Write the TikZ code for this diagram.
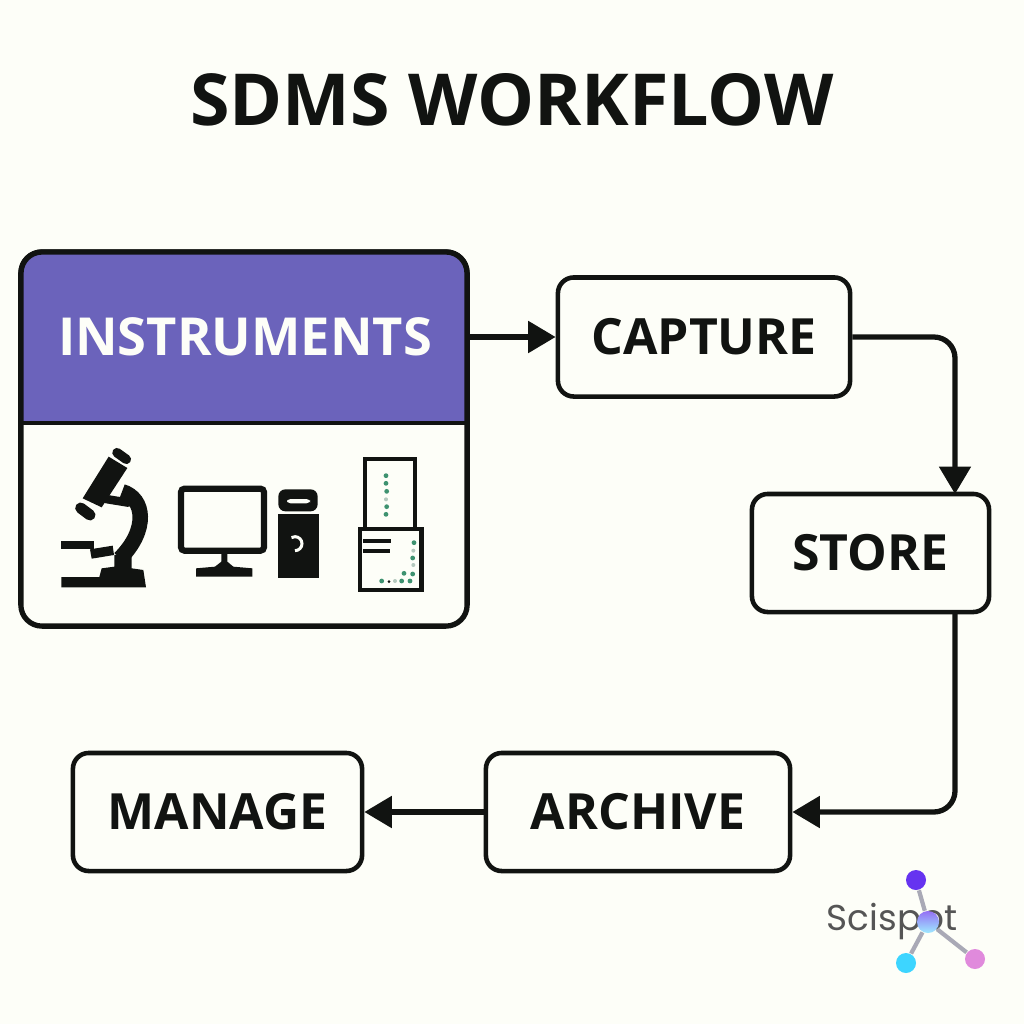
\documentclass[tikz,border=0pt]{standalone}
\usepackage{fontspec}
\setmainfont{Open Sans}
\newfontfamily\logofont{Poppins}
\usetikzlibrary{arrows.meta,backgrounds}
\definecolor{pagebg}{HTML}{FDFEF8}
\definecolor{inkblack}{HTML}{111311}
\definecolor{headerblue}{HTML}{6B63BB}
\definecolor{dotgreen}{HTML}{3E9270}
\definecolor{dotpale}{HTML}{B5C9BE}
\definecolor{logogray}{HTML}{A9A9B6}
\definecolor{logotext}{HTML}{555555}
\definecolor{logopurple}{HTML}{6633F0}
\definecolor{logocyan}{HTML}{3DD5FF}
\definecolor{logopink}{HTML}{E08ADC}
\tikzset{
  stepbox/.style={draw=inkblack, line width=1.3pt, rounded corners=4.5pt, fill=pagebg, inner sep=0pt, font=\fontsize{14.2}{18}\selectfont\bfseries, text=inkblack},
  flow/.style={draw=inkblack, line width=1.5pt, rounded corners=6pt, -{Triangle[length=7.8pt,width=8.8pt]}},
  logodot/.style={circle, minimum size=2mm, inner sep=0pt, draw=none},
  logoline/.style={logogray, line width=1.2pt}
}
\begin{document}
\begin{tikzpicture}[x=0.01cm,y=-0.01cm]
\useasboundingbox (0,0) rectangle (1024,1024);
\begin{scope}[on background layer]
\fill[pagebg] (0,0) rectangle (1024,1024);
\end{scope}

\node[font=\fontsize{20.4}{26}\selectfont\bfseries, text=inkblack] (title) at (512,100) {SDMS WORKFLOW};

% instruments panel
\node[draw=inkblack, line width=1.5pt, rounded corners=6pt, fill=pagebg, minimum width=4.46cm, minimum height=3.74cm, inner sep=0pt] (instruments) at (244,439) {};
\fill[headerblue, rounded corners=6pt] (21,423) -- (21,252) -- (467,252) -- (467,423) -- cycle;
\fill[headerblue] (21,395) rectangle (467,423);
\draw[inkblack, line width=1.5pt, rounded corners=6pt] (21,423) -- (21,252) -- (467,252) -- (467,423);
\draw[inkblack, line width=1.3pt] (21,423) -- (467,423);
\node[minimum width=4.46cm, minimum height=1.71cm, inner sep=0pt, text=pagebg, font=\fontsize{14.9}{18}\selectfont\bfseries] (header) at (245,337) {INSTRUMENTS};

\node[stepbox, minimum width=2.92cm, minimum height=1.19cm] (capture) at (704,337) {CAPTURE};
\node[stepbox, minimum width=2.37cm, minimum height=1.18cm] (store) at (870.5,553) {STORE};
\node[stepbox, minimum width=3.04cm, minimum height=1.18cm] (archive) at (638,812) {ARCHIVE};
\node[stepbox, minimum width=2.89cm, minimum height=1.18cm] (manage) at (217.5,812) {MANAGE};

\coordinate (storein) at (955,494);
\coordinate (storeout) at (955,612);

\draw[flow] (header.east) -- (capture.west);
\draw[flow] (capture.east) -- (955,337) -- (storein);
\draw[flow] (storeout) -- (955,812) -- (archive.east);
\draw[flow] (archive.west) -- (manage.east);

% icons, in units of a third of a pixel
\begin{scope}[shift={(20,430)},x=0.01cm/3,y=-0.01cm/3]
  % microscope
  \draw[inkblack, line width=0.95mm, line cap=round] (291,68) -- (319,88);
  \fill[inkblack] (266,80) -- (322,114) -- (245,232) -- (188,205) -- cycle;
  \draw[inkblack, line width=1.1mm, line cap=round] (182,234) -- (210,255);
  \draw[inkblack, line width=1.55mm] (306,185) .. controls (375,205) and (385,300) .. (300,385);
  \draw[inkblack, line width=0.85mm, line cap=round] (258,207) -- (325,218);
  \fill[inkblack] (122,332) -- (222,332) -- (222,358) -- (122,358) -- cycle;
  \fill[inkblack] (210,358) -- (278,347) -- (282,375) -- (215,386) -- cycle;
  \fill[inkblack] (283,375) -- (335,365) -- (335,415) -- (370,420) -- (378,472) -- (124,472) -- (124,441) -- (238,441) -- (245,415) -- (283,410) -- cycle;
  % computer
  \draw[inkblack, line width=0.62mm, rounded corners=1pt] (483,176) rectangle (732,362);
  \fill[inkblack] (604,368) -- (622,368) -- (622,395) -- (640,410) -- (697,415) -- (697,440) -- (528,440) -- (528,415) -- (585,410) -- (604,395) -- cycle;
  \fill[inkblack, rounded corners=2pt] (775,178) rectangle (893,244);
  \fill[pagebg, rounded corners=1pt] (801,207) rectangle (870,220);
  \fill[inkblack] (773,252) rectangle (896,445);
  \draw[pagebg, line width=0.3mm] (825,362) arc (90:-120:21);
  % sample device
  \draw[inkblack, line width=0.42mm] (1036,88) rectangle (1186,297);
  \draw[inkblack, line width=0.48mm, fill=pagebg] (1020,297) rectangle (1204,480);
  \draw[inkblack, line width=0.42mm] (1030,333) -- (1112,333);
  \draw[inkblack, line width=0.42mm] (1030,364) -- (1110,364);
  \foreach \px/\py in {1098/137,1098/160,1100/184,1100/230,1098/253,1182/338,1178/384,1152/430,1178/432,1085/453,1145/453,1170/453}
    \fill[dotgreen] (\px,\py) circle (0.24mm);
  \foreach \px/\py in {1098/208,1180/362,1180/405,1125/453}
    \fill[dotpale] (\px,\py) circle (0.2mm);
  \fill[inkblack] (1107,455) circle (0.15mm);
\end{scope}

% logo
\node[text=logotext, font=\logofont\fontsize{10.2}{12}\selectfont, anchor=west, inner sep=0pt] (scispot) at (826,922) {Scispot};
\node[logodot, fill=logopurple] (dotpurple) at (916,880) {};
\node[logodot, minimum size=2.2mm, top color=logopurple!70!white, bottom color=logocyan!50!white] (dotcenter) at (928,922) {};
\node[logodot, fill=logocyan] (dotcyan) at (906,963) {};
\node[logodot, fill=logopink] (dotpink) at (975,959) {};
\draw[logoline] (dotpurple) -- (dotcenter);
\draw[logoline] (dotcenter) -- (dotcyan);
\draw[logoline] (dotcenter) -- (dotpink);
\end{tikzpicture}
\end{document}
